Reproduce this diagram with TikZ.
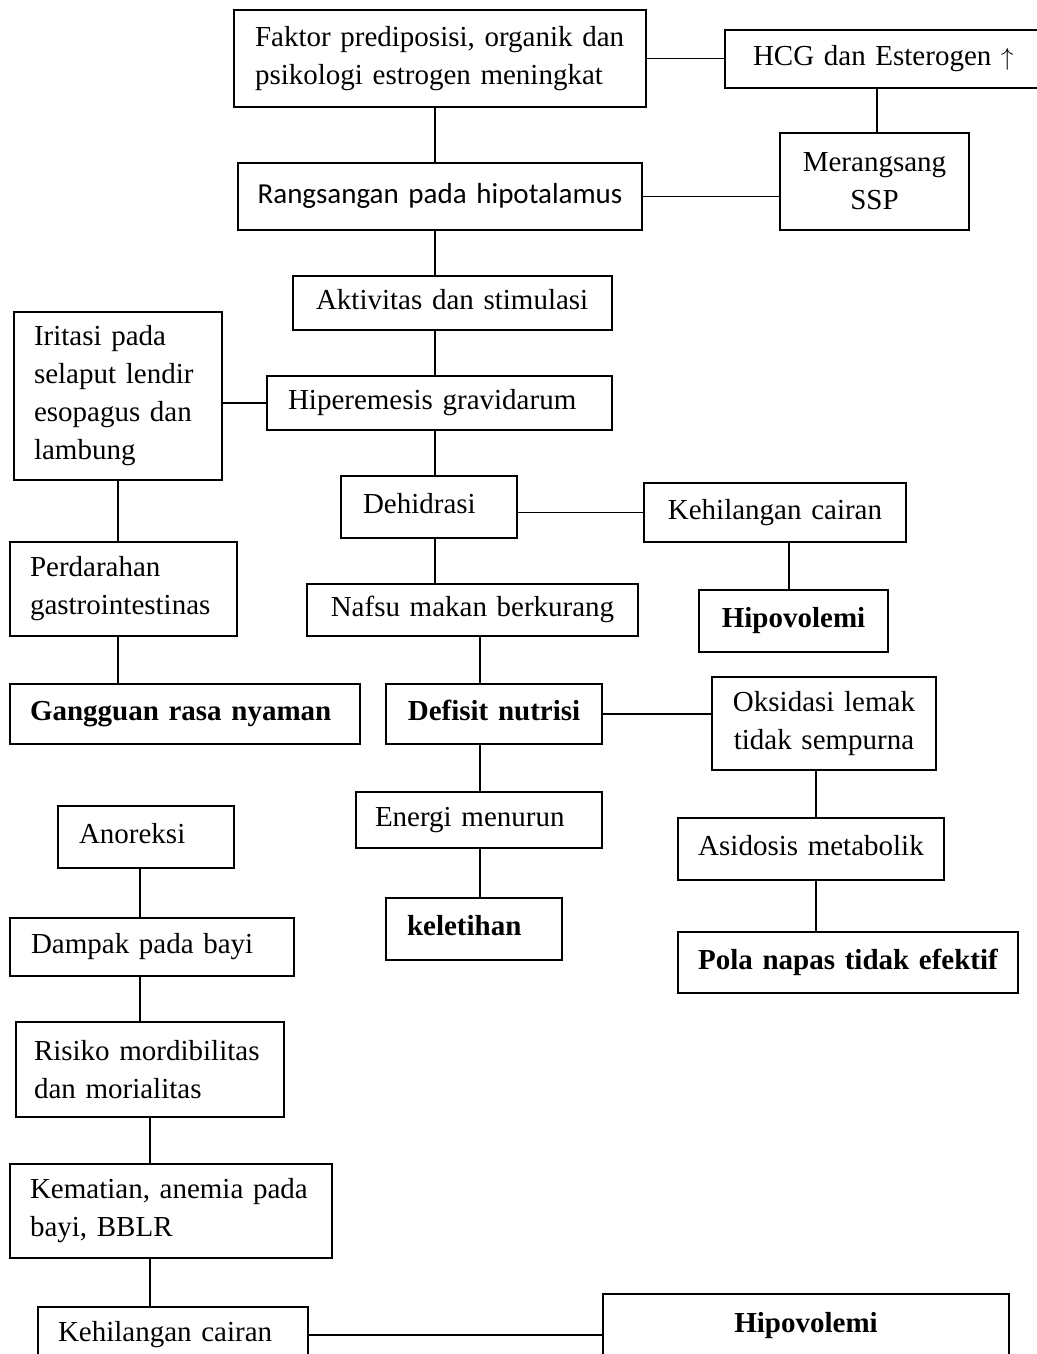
\documentclass[tikz,border=0pt]{standalone}
\usepackage{fontspec}
\setmainfont{Liberation Serif}
\newfontfamily\calibri{Carlito}
\tikzstyle{process} = [rectangle, draw=black, line width=1.8pt, inner sep=0pt, align=left,
font=\fontsize{29}{38}\selectfont]
\tikzstyle{oneline} = [process, text height=20pt, text depth=7pt]
\tikzstyle{diagnosa} = [oneline, font=\fontsize{29}{38}\selectfont\bfseries]
\tikzstyle{link} = [line width=1.8pt]

\begin{document}
\begin{tikzpicture}[x=1pt,y=-1pt]
\useasboundingbox (0,0) rectangle (1036,1354);

% upper chain
\node (faktor) [process, minimum width=412pt, minimum height=97pt, text width=370pt] at (440,58.5) {Faktor prediposisi, organik dan\\psikologi estrogen meningkat};
\node (hcg) [oneline, minimum width=335pt, minimum height=58pt, text width=279pt] at (892.5,59) {HCG dan Esterogen $\uparrow$};
\node (meran) [process, align=center, minimum width=189pt, minimum height=97pt, text width=170pt] at (874.5,181.5) {Merangsang\\SSP};
\node (rangs) [oneline, align=center, minimum width=404pt, minimum height=67pt, text width=390pt, font=\fontsize{29}{38}\selectfont\calibri] at (440,196.5) {Rangsangan pada hipotalamus};
\node (aktiv) [oneline, minimum width=319pt, minimum height=54pt, text width=273pt] at (452.5,303) {Aktivitas dan stimulasi};
\node (hiper) [oneline, minimum width=345pt, minimum height=54pt, text width=303pt] at (439.5,403) {Hiperemesis gravidarum};
\node (iritasi) [process, minimum width=208pt, minimum height=168pt, text width=168pt] at (118,396) {Iritasi pada\\selaput lendir\\esopagus dan\\lambung};
\node (dehid) [oneline, minimum width=176pt, minimum height=62pt, text width=132pt] at (429,507) {Dehidrasi};
\node (kehil) [oneline, align=center, minimum width=262pt, minimum height=59pt, text width=240pt] at (775,512.5) {Kehilangan cairan};
\node (perdar) [process, minimum width=227pt, minimum height=94pt, text width=187pt] at (123.5,589) {Perdarahan\\gastrointestinas};
\node (nafsu) [oneline, align=center, minimum width=331pt, minimum height=52pt, text width=300pt] at (472.5,610) {Nafsu makan berkurang};
\node (hipo) [diagnosa, align=center, minimum width=189pt, minimum height=62pt, text width=170pt] at (793.5,621) {Hipovolemi};

% diagnoses
\node (ganggu) [diagnosa, minimum width=350pt, minimum height=60pt, text width=310pt] at (185,714) {Gangguan rasa nyaman};
\node (defisit) [diagnosa, align=center, minimum width=216pt, minimum height=60pt, text width=196pt] at (494,714) {Defisit nutrisi};
\node (oksid) [process, align=center, minimum width=224pt, minimum height=93pt, text width=204pt] at (824,723.5) {Oksidasi lemak\\tidak sempurna};
\node (energi) [oneline, minimum width=246pt, minimum height=56pt, text width=208pt] at (479,820) {Energi menurun};
\node (asidosis) [oneline, align=center, minimum width=266pt, minimum height=62pt, text width=246pt] at (811,849) {Asidosis metabolik};
\node (letih) [diagnosa, minimum width=176pt, minimum height=62pt, text width=134pt] at (474,929) {keletihan};
\node (pola) [diagnosa, align=center, minimum width=340pt, minimum height=61pt, text width=320pt] at (848,962.5) {Pola napas tidak efektif};

% left lower chain
\node (anorek) [oneline, minimum width=176pt, minimum height=62pt, text width=134pt] at (146,837) {Anoreksi};
\node (dampak) [oneline, minimum width=284pt, minimum height=58pt, text width=242pt] at (152,947) {Dampak pada bayi};
\node (risiko) [process, minimum width=268pt, minimum height=95pt, text width=232pt] at (150,1069.5) {Risiko mordibilitas\\dan morialitas};
\node (kemati) [process, minimum width=322pt, minimum height=94pt, text width=282pt] at (171,1211) {Kematian, anemia pada\\bayi, BBLR};
\node (kehil2) [oneline, minimum width=270pt, minimum height=56pt, text width=230pt] at (173,1335) {Kehilangan cairan};
\node (hipo2) [diagnosa, align=center, minimum width=406pt, minimum height=64pt, text width=380pt] at (806,1326) {Hipovolemi};

\coordinate (spine) at (435,0);
\coordinate (nutr) at (480,0);
\coordinate (hormon) at (877,0);
\coordinate (cair) at (789,0);
\coordinate (lambung) at (118,0);
\coordinate (asam) at (816,0);
\coordinate (bayi) at (140,0);
\coordinate (janin) at (150,0);

\draw [link] (faktor.east) -- (faktor.east -| hcg.west);
\draw [link] (hcg.south -| hormon) -- (meran.north -| hormon);
\draw [link] (rangs.east) -- (rangs.east -| meran.west);
\draw [link] (faktor.south -| spine) -- (rangs.north -| spine);
\draw [link] (rangs.south -| spine) -- (aktiv.north -| spine);
\draw [link] (aktiv.south -| spine) -- (hiper.north -| spine);
\draw [link] (hiper.west) -- (hiper.west -| iritasi.east);
\draw [link] (hiper.south -| spine) -- (dehid.north -| spine);
\draw [link] (kehil.west -| dehid.east) -- (kehil.west);
\draw [link] (dehid.south -| spine) -- (nafsu.north -| spine);
\draw [link] (kehil.south -| cair) -- (hipo.north -| cair);
\draw [link] (iritasi.south -| lambung) -- (perdar.north -| lambung);
\draw [link] (perdar.south -| lambung) -- (ganggu.north -| lambung);
\draw [link] (nafsu.south -| nutr) -- (defisit.north -| nutr);
\draw [link] (defisit.east) -- (defisit.east -| oksid.west);
\draw [link] (defisit.south -| nutr) -- (energi.north -| nutr);
\draw [link] (energi.south -| nutr) -- (letih.north -| nutr);
\draw [link] (oksid.south -| asam) -- (asidosis.north -| asam);
\draw [link] (asidosis.south -| asam) -- (pola.north -| asam);
\draw [link] (anorek.south -| bayi) -- (dampak.north -| bayi);
\draw [link] (dampak.south -| bayi) -- (risiko.north -| bayi);
\draw [link] (risiko.south -| janin) -- (kemati.north -| janin);
\draw [link] (kemati.south -| janin) -- (kehil2.north -| janin);
\draw [link] (kehil2.east) -- (kehil2.east -| hipo2.west);

\end{tikzpicture}
\end{document}
